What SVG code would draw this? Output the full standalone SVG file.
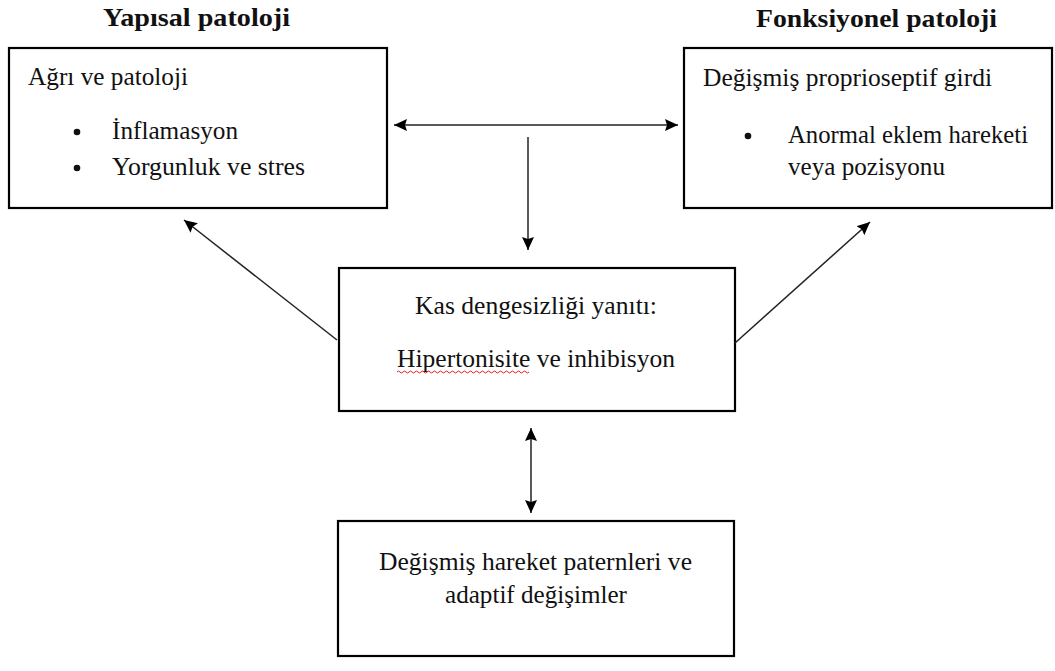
<svg xmlns="http://www.w3.org/2000/svg" width="1055" height="671" viewBox="0 0 1055 671">
<style>
.box{fill:#fff;stroke:#000;stroke-width:2.2}
.t{font-family:"Liberation Serif","Times New Roman",serif;font-size:24.5px;fill:#111}
.h{font-family:"Liberation Serif","Times New Roman",serif;font-size:25px;font-weight:bold;fill:#111}
.c{stroke:#222;stroke-width:1.5;fill:none}
.dot{fill:#111}
</style>
<defs>
<marker id="ah" viewBox="0 0 13 12" refX="13" refY="6" markerWidth="13" markerHeight="12" markerUnits="userSpaceOnUse" orient="auto-start-reverse">
<path d="M0,0 L13,6 L0,12 L2,6 z" fill="#000"/>
</marker>
</defs>
<rect width="1055" height="671" fill="#fff"/>
<text class="h" x="103" y="26" textLength="187" lengthAdjust="spacingAndGlyphs">Yapısal patoloji</text>
<text class="h" x="756" y="27" textLength="241" lengthAdjust="spacingAndGlyphs">Fonksiyonel patoloji</text>
<g id="node-structural">
<rect class="box" x="9" y="48" width="378" height="160"/>
<text class="t" x="28" y="85" textLength="160" lengthAdjust="spacingAndGlyphs">Ağrı ve patoloji</text>
<circle class="dot" cx="77" cy="132" r="3.3"/>
<text class="t" x="112" y="139" textLength="126" lengthAdjust="spacingAndGlyphs">İnflamasyon</text>
<circle class="dot" cx="77" cy="168" r="3.3"/>
<text class="t" x="112" y="175" textLength="193" lengthAdjust="spacingAndGlyphs">Yorgunluk ve stres</text>
</g>
<g id="node-functional">
<rect class="box" x="684" y="48" width="368" height="160"/>
<text class="t" x="703" y="86" textLength="289" lengthAdjust="spacingAndGlyphs">Değişmiş proprioseptif girdi</text>
<circle class="dot" cx="748" cy="136" r="3.3"/>
<text class="t" x="788" y="143" textLength="240" lengthAdjust="spacingAndGlyphs">Anormal eklem hareketi</text>
<text class="t" x="788" y="175" textLength="157" lengthAdjust="spacingAndGlyphs">veya pozisyonu</text>
</g>
<g id="node-muscle">
<rect class="box" x="339" y="268" width="396" height="143"/>
<text class="t" x="415" y="314" textLength="242" lengthAdjust="spacingAndGlyphs">Kas dengesizliği yanıtı:</text>
<text class="t" x="397" y="367" textLength="278" lengthAdjust="spacingAndGlyphs">Hipertonisite ve inhibisyon</text>
<path d="M397,372 q1.5,-2 3,0 t3,0 t3,0 t3,0 t3,0 t3,0 t3,0 t3,0 t3,0 t3,0 t3,0 t3,0 t3,0 t3,0 t3,0 t3,0 t3,0 t3,0 t3,0 t3,0 t3,0 t3,0 t3,0 t3,0 t3,0 t3,0 t3,0 t3,0 t3,0 t3,0 t3,0 t3,0 t3,0 t3,0 t3,0 t3,0 t3,0 t3,0 t3,0 t3,0 t3,0 t3,0 t3,0 t3,0" fill="none" stroke="#e02020" stroke-width="1"/>
</g>
<g id="node-patterns">
<rect class="box" x="338" y="521" width="396" height="135"/>
<text class="t" x="379" y="570" textLength="313" lengthAdjust="spacingAndGlyphs">Değişmiş hareket paternleri ve</text>
<text class="t" x="445" y="603" textLength="182" lengthAdjust="spacingAndGlyphs">adaptif değişimler</text>
</g>
<g id="connectors">
<line class="c" x1="394" y1="125" x2="678" y2="125" marker-start="url(#ah)" marker-end="url(#ah)"/>
<line class="c" x1="528" y1="137" x2="528" y2="250" marker-end="url(#ah)"/>
<line class="c" x1="337" y1="340" x2="184" y2="220" marker-end="url(#ah)"/>
<line class="c" x1="735" y1="343" x2="870" y2="222" marker-end="url(#ah)"/>
<line class="c" x1="531" y1="428" x2="531" y2="513" marker-start="url(#ah)" marker-end="url(#ah)"/>
</g>
</svg>
